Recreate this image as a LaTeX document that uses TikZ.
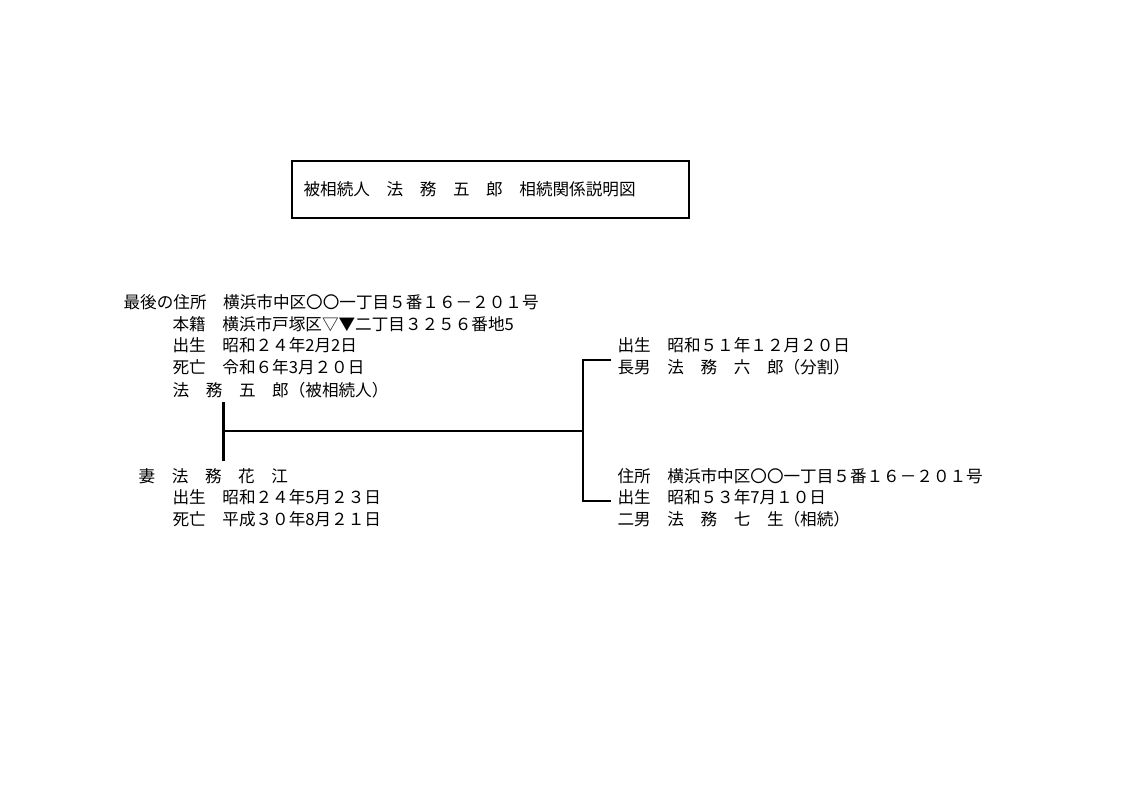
\documentclass[tikz,border=0pt]{standalone}
\usepackage{fontspec}
\newfontfamily\jp{Noto Sans CJK JP}
\usetikzlibrary{positioning}

\begin{document}
\begin{tikzpicture}[x=1pt, y=-1pt, line width=1.2pt,
  every node/.style={font=\jp\fontsize{16.6}{18}\selectfont, inner sep=0pt, anchor=west}]

\useasboundingbox (0,0) rectangle (1123,794);

% title
\draw (292,161) rectangle (689,218);
\node (title) at (303,189) {被相続人　法　務　五　郎　相続関係説明図};

% deceased
\foreach \t/\x/\y [count=\i] in {
  最後の住所　横浜市中区〇〇一丁目５番１６－２０１号/123/302,
  本籍　横浜市戸塚区▽▼二丁目３２５６番地5/172/324,
  出生　昭和２４年2月2日/172/345,
  死亡　令和６年3月２０日/172/367,
  法　務　五　郎（被相続人）/172/390}
  \node (dec-\i) at (\x,\y) {\t};

% spouse
\foreach \t/\x/\y [count=\i] in {
  妻　法　務　花　江/138/476,
  出生　昭和２４年5月２３日/172/497,
  死亡　平成３０年8月２１日/172/519}
  \node (wife-\i) at (\x,\y) {\t};

% children
\foreach \t/\y [count=\i] in {
  出生　昭和５１年１２月２０日/345,
  長男　法　務　六　郎（分割）/367}
  \node (son1-\i) at (617,\y) {\t};
\foreach \t/\y [count=\i] in {
  住所　横浜市中区〇〇一丁目５番１６－２０１号/476,
  出生　昭和５３年7月１０日/497,
  二男　法　務　七　生（相続）/519}
  \node (son2-\i) at (617,\y) {\t};

% lines
\coordinate (mar-top) at (223,402);
\coordinate (mar-bot) at (223,461);
\coordinate (mar) at (223,431);
\coordinate (fork) at (583,431);
\coordinate (fork-top) at (583,360);
\coordinate (fork-bot) at (583,501);
\draw[line width=3pt] (mar-top) -- (mar-bot);
\draw (mar) -- (fork);
\draw (fork-top -| son1-1.west) ++(-6,0) -- (fork-top) -- (fork-bot) -- ++(28,0);

\end{tikzpicture}
\end{document}
